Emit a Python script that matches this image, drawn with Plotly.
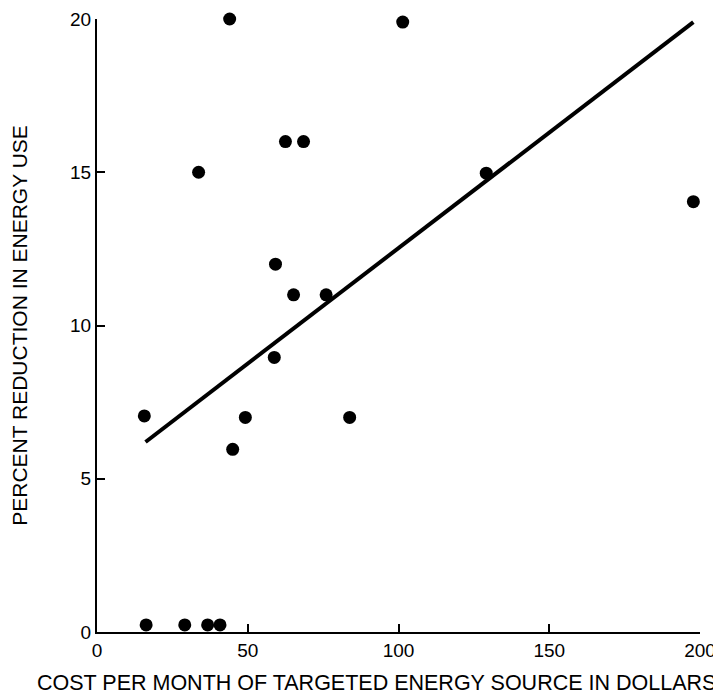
import plotly.graph_objects as go

cost = [16.3, 29.1, 36.7, 40.8, 15.7, 33.7, 44.0, 45.0, 49.2, 58.8, 59.2,
        62.5, 68.5, 65.2, 76.0, 83.8, 101.4, 129.1, 197.8]
reduction = [0.23, 0.23, 0.23, 0.23, 7.05, 15.0, 20.0, 5.96, 7.0, 8.96, 12.0,
             16.0, 16.0, 11.0, 11.0, 7.0, 19.9, 14.97, 14.04]

fit_x = [16.1, 197.8]
fit_y = [6.2, 19.9]

x_ticks = [0, 50, 100, 150, 200]
y_ticks = [0, 5, 10, 15, 20]

x_title = "COST PER MONTH OF TARGETED ENERGY SOURCE IN DOLLARS"
y_title = "PERCENT REDUCTION IN ENERGY USE"

font = "Liberation Sans, Arial, sans-serif"

fig = go.Figure()
fig.add_trace(go.Scatter(x=fit_x, y=fit_y, mode="lines",
                         line=dict(color="black", width=4), cliponaxis=False,
                         showlegend=False))
fig.add_trace(go.Scatter(x=cost, y=reduction, mode="markers",
                         marker=dict(color="black", size=13), cliponaxis=False,
                         showlegend=False))

axis_common = dict(tickmode="array", ticks="inside", ticklen=8, tickwidth=2,
                   tickcolor="black", showline=True, linecolor="black",
                   linewidth=2, showgrid=False, zeroline=False,
                   automargin=False, tickfont=dict(family=font, size=19))

# page body has an 8px default margin, so the figure is sized to fit the window
fig.update_layout(
    width=713, height=686,
    margin=dict(l=89, r=21, t=11, b=62),
    paper_bgcolor="white", plot_bgcolor="white",
    font=dict(family=font, size=19, color="black"),
    xaxis=dict(range=[0, 200], tickvals=x_ticks, **axis_common),
    yaxis=dict(range=[0, 20], tickvals=y_ticks, **axis_common,
               title=dict(text=y_title, font=dict(family=font, size=21),
                          standoff=44)),
    annotations=[dict(text=x_title, xref="paper", yref="paper",
                      x=0.464, y=0, yshift=-51, xanchor="center",
                      yanchor="middle", showarrow=False,
                      font=dict(family=font, size=21.5))],
)

fig.write_html("out.html")
